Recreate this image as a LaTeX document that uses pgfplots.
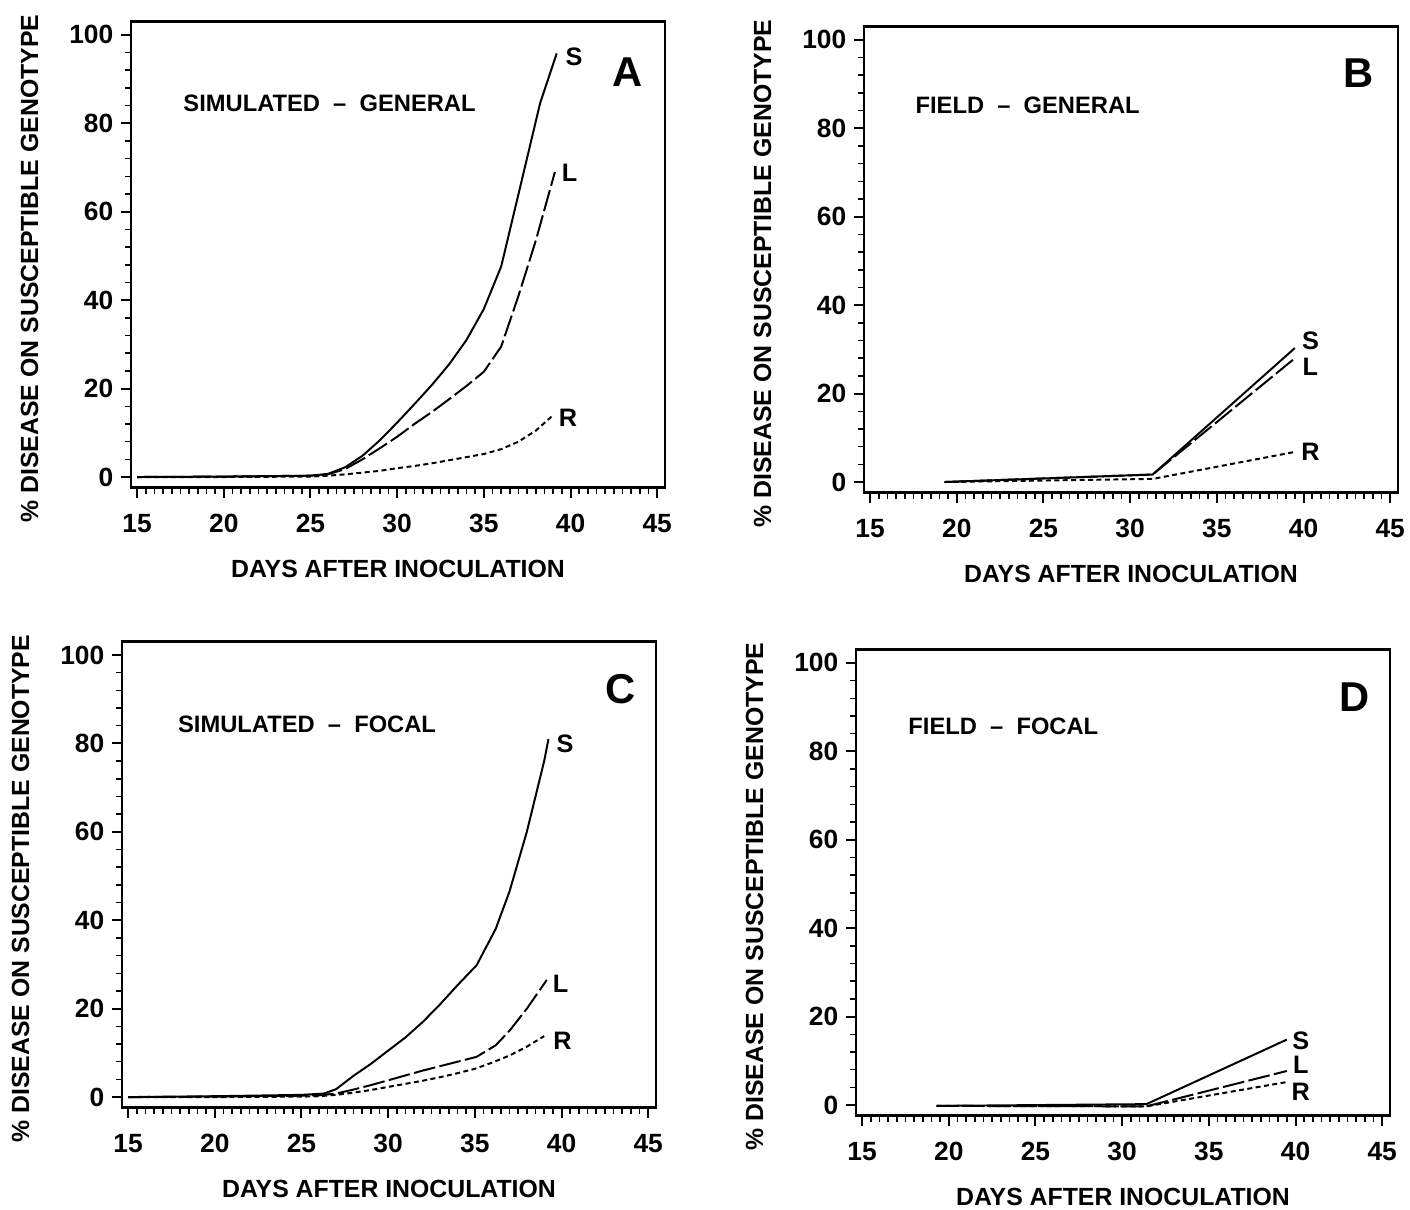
\documentclass[border=0pt]{standalone}
\usepackage{fontspec}
\setmainfont{Liberation Sans}
\usepackage{pgfplots}
\pgfplotsset{compat=1.18}

\pgfplotsset{
  panel/.style={
    scale only axis, width=85.44mm, height=74.56mm,
    xmin=14.65, xmax=45.45, ymin=-2.4, ymax=103,
    xtick={15,20,...,45}, ytick={0,20,...,100},
    minor x tick num=9, minor y tick num=4,
    xtick pos=left, ytick pos=left,
    tick align=outside,
    major tick length=1.6mm, minor tick length=1.0mm,
    axis line style={line width=1.1pt},
    every tick/.style={black, line width=0.9pt},
    every minor tick/.style={black, line width=0.7pt},
    tick label style={font=\fontsize{12}{14}\selectfont\bfseries},
    xticklabel style={yshift=-1.4mm},
    /pgf/number format/assume math mode=true,
    label style={font=\fontsize{11.3}{13}\selectfont\bfseries},
    xlabel={DAYS AFTER INOCULATION},
    ylabel={\% DISEASE ON SUSCEPTIBLE GENOTYPE},
    xlabel style={at={(axis description cs:0.5,-0.175)}, anchor=center},
    ylabel style={at={(axis description cs:-0.19,0.47)}, anchor=center},
    clip=false,
  },
}
\tikzset{
  Sline/.style={black, line width=0.9pt},
  Lline/.style={black, line width=0.9pt, dash pattern=on 3.5mm off 0.7mm},
  Rline/.style={black, line width=0.9pt, dash pattern=on 0.8mm off 0.55mm},
  inset/.style={font=\fontsize{10.8}{12}\selectfont\bfseries, anchor=west, inner sep=0pt},
  letter/.style={font=\fontsize{19}{22}\selectfont\bfseries, anchor=center},
  curvelab/.style={font=\fontsize{11.5}{13}\selectfont\bfseries, anchor=center},
}

\begin{document}
\begin{tikzpicture}
\useasboundingbox (0,0) rectangle (225.6mm,-193.6mm);

% ---------------- A ----------------
\begin{axis}[panel, at={(20.96mm,-78.02mm)}, anchor=south west]
\addplot[Sline] coordinates {(15,0)(20,0.1)(25,0.3)(26,0.7)(27,2.2)(28,4.8)(29,8.3)(30,12.3)(31,16.5)(32,20.8)(33,25.5)(34,31)(35,38)(36,47.6)(37,64)(38.25,84.6)(39.2,95.8)};
\addplot[Lline] coordinates {(15,0)(20,0.1)(25,0.3)(26,0.6)(27,1.8)(28,4)(29,6.5)(30,9.1)(31,12)(32,14.7)(33,17.6)(34,20.6)(35,23.8)(36,29.5)(37,41)(38,53.5)(39.1,69)};
\addplot[Rline] coordinates {(15,0)(20,0)(25,0.1)(26,0.3)(27,0.6)(28,1.0)(29,1.4)(30,2.0)(31,2.5)(32,3.1)(33,3.8)(34,4.5)(35,5.2)(36,6.3)(37,8)(38,10.5)(39,14)};
\node[inset] at (axis cs:17.65,84.6) {SIMULATED ~--~ GENERAL};
\node[letter] at (axis cs:43.3,91.6) {A};
\node[curvelab] at (axis cs:40.2,95) {S};
\node[curvelab] at (axis cs:39.95,68.8) {L};
\node[curvelab] at (axis cs:39.85,13.3) {R};
\end{axis}

% ---------------- B ----------------
\begin{axis}[panel, at={(138.24mm,-78.82mm)}, anchor=south west]
\addplot[Sline] coordinates {(19.3,0)(31.3,1.7)(39.5,30.3)};
\addplot[Lline] coordinates {(19.3,0)(31.3,1.7)(39.5,28)};
\addplot[Rline] coordinates {(19.3,0)(31.3,0.7)(39.5,6.8)};
\node[inset] at (axis cs:17.6,85.2) {FIELD ~--~ GENERAL};
\node[letter] at (axis cs:43.2,92.5) {B};
\node[curvelab] at (axis cs:40.4,32) {S};
\node[curvelab] at (axis cs:40.4,26.1) {L};
\node[curvelab] at (axis cs:40.4,6.8) {R};
\end{axis}

% ---------------- C ----------------
\begin{axis}[panel, at={(19.52mm,-177.23mm)}, anchor=south west]
\addplot[Sline] coordinates {(15,0)(20,0.2)(25,0.5)(26.3,0.8)(27,1.8)(28,4.8)(29,7.5)(30,10.5)(31,13.5)(32,17)(33,21)(34,25.3)(35.1,29.8)(36.2,38)(37,46.5)(38,60)(39,76)(39.25,81)};
\addplot[Lline] coordinates {(15,0)(20,0.1)(25,0.3)(26,0.4)(27,0.8)(28,1.7)(29,2.7)(30,3.8)(31,4.9)(32,6)(33,7)(34,8)(35.1,9.1)(36.2,11.7)(37,15)(38,20)(39.15,26.5)};
\addplot[Rline] coordinates {(15,0)(20,0)(25,0.1)(26,0.2)(27,0.5)(28,1)(29,1.6)(30,2.3)(31,3)(32,3.7)(33,4.5)(34,5.4)(35,6.4)(36,7.8)(37,9.4)(38,11.4)(39,13.8)};
\node[inset] at (axis cs:17.86,84.3) {SIMULATED ~--~ FOCAL};
\node[letter] at (axis cs:43.4,92.2) {C};
\node[curvelab] at (axis cs:40.2,80) {S};
\node[curvelab] at (axis cs:39.95,25.6) {L};
\node[curvelab] at (axis cs:40.05,12.8) {R};
\end{axis}

% ---------------- D ----------------
\begin{axis}[panel, at={(136.96mm,-178.50mm)}, anchor=south west]
\addplot[Sline] coordinates {(19.3,-0.2)(31.4,0.2)(39.5,14.8)};
\addplot[Lline] coordinates {(19.3,-0.2)(31.4,-0.3)(39.5,7.7)};
\addplot[Rline] coordinates {(19.3,-0.2)(31.4,-0.3)(39.5,5.2)};
\node[inset] at (axis cs:17.65,85.6) {FIELD ~--~ FOCAL};
\node[letter] at (axis cs:43.4,92.3) {D};
\node[curvelab] at (axis cs:40.3,14.6) {S};
\node[curvelab] at (axis cs:40.3,9.2) {L};
\node[curvelab] at (axis cs:40.3,2.9) {R};
\end{axis}
\end{tikzpicture}
\end{document}
